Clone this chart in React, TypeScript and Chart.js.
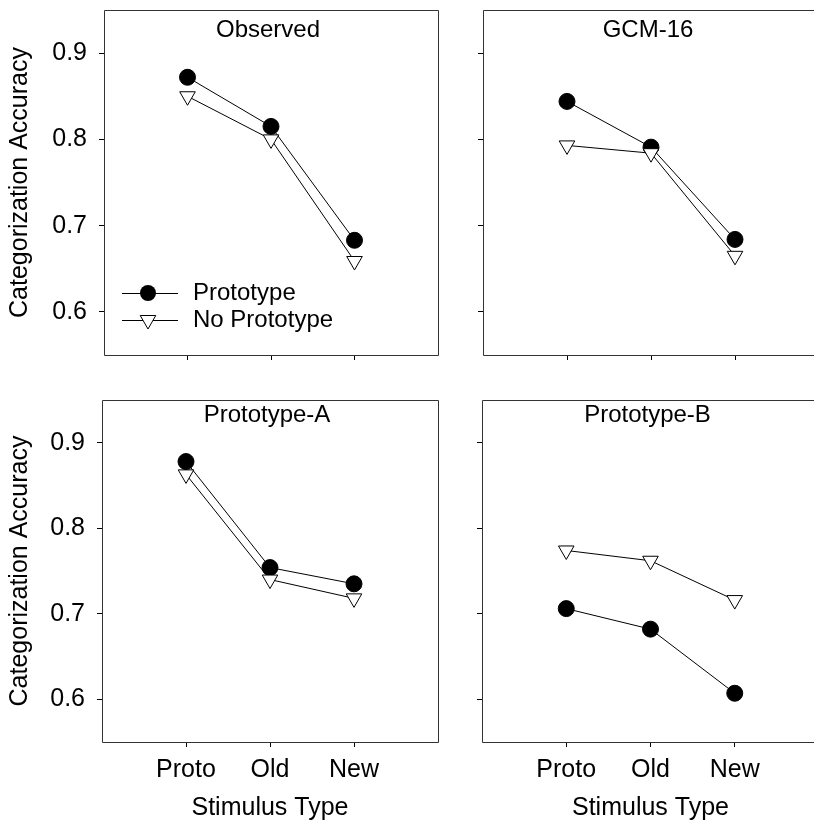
import React, { useEffect, useRef } from 'react';
import { Chart, registerables } from 'chart.js';

Chart.register(...registerables);

// ---- data ----
const stimulusTypes = ['Proto', 'Old', 'New'];
const yTicks = [0.6, 0.7, 0.8, 0.9];
const seriesNames = ['Prototype', 'No Prototype'];
const panelTitles = ['Observed', 'GCM-16', 'Prototype-A', 'Prototype-B'];

const observedProto = [0.872, 0.815, 0.683];
const observedNoProto = [0.850, 0.800, 0.659];
const gcmProto = [0.844, 0.791, 0.684];
const gcmNoProto = [0.793, 0.784, 0.665];
const protoAProto = [0.878, 0.754, 0.735];
const protoANoProto = [0.863, 0.740, 0.718];
const protoBProto = [0.706, 0.682, 0.607];
const protoBNoProto = [0.774, 0.762, 0.716];

const FONT_FAMILY = '"Liberation Sans", Arial, Helvetica, sans-serif';
const FONT_SIZE = 25;
const TITLE_SIZE = 24;
const INK = '#000';
const BOX = '#333';

type Area = { left: number; top: number; right: number; bottom: number };

type PanelProps = {
  title: string;
  proto: number[];
  noProto: number[];
  x: number;
  y: number;
  width: number;
  height: number;
  area: Area;
  showYLabels: boolean;
  showXLabels: boolean;
  showLegend: boolean;
  titleOffset: number;
  openRight: boolean;
};

function drawTriangleDown(ctx: CanvasRenderingContext2D, cx: number, cy: number, r: number) {
  ctx.beginPath();
  const rot = Math.PI;
  for (let k = 0; k < 3; k++) {
    const a = rot + (k * 2 * Math.PI) / 3;
    const px = cx + Math.sin(a) * r;
    const py = cy - Math.cos(a) * r;
    if (k === 0) ctx.moveTo(px, py);
    else ctx.lineTo(px, py);
  }
  ctx.closePath();
  ctx.fillStyle = '#fff';
  ctx.fill();
  ctx.strokeStyle = INK;
  ctx.lineWidth = 1;
  ctx.stroke();
}

function Panel(p: PanelProps) {
  const ref = useRef<HTMLCanvasElement | null>(null);

  useEffect(() => {
    if (!ref.current) return;
    const font = { family: FONT_FAMILY, size: FONT_SIZE };

    const decorPlugin = {
      id: 'decor' + p.title,
      beforeDatasetsDraw(chart: any) {
        const { ctx, chartArea } = chart;
        const l = Math.round(chartArea.left) + 0.5;
        const t = Math.round(chartArea.top) + 0.5;
        const r = Math.round(chartArea.right) + 0.5;
        const b = Math.round(chartArea.bottom) + 0.5;
        ctx.save();
        ctx.strokeStyle = BOX;
        ctx.lineWidth = 1;
        ctx.beginPath();
        ctx.moveTo(r, t);
        ctx.lineTo(l, t);
        ctx.lineTo(l, b);
        ctx.lineTo(r, b);
        if (!p.openRight) ctx.closePath();
        ctx.stroke();
        ctx.restore();
      },
      afterDraw(chart: any) {
        const { ctx, chartArea } = chart;
        ctx.save();
        ctx.font = `${TITLE_SIZE}px ${FONT_FAMILY}`;
        ctx.fillStyle = INK;
        ctx.textAlign = 'center';
        ctx.textBaseline = 'middle';
        ctx.fillText(p.title, (chartArea.left + chartArea.right) / 2 - 3, chartArea.top + p.titleOffset);

        if (p.showLegend) {
          const lx0 = chartArea.left + 18;
          const lx1 = chartArea.left + 74;
          const mx = chartArea.left + 44;
          const tx = chartArea.left + 89;
          const y1 = chartArea.bottom - 62;
          const y2 = chartArea.bottom - 35;
          ctx.strokeStyle = INK;
          ctx.lineWidth = 1;
          ctx.beginPath();
          ctx.moveTo(lx0, y1 + 0.5);
          ctx.lineTo(lx1, y1 + 0.5);
          ctx.moveTo(lx0, y2 + 0.5);
          ctx.lineTo(lx1, y2 + 0.5);
          ctx.stroke();
          ctx.beginPath();
          ctx.arc(mx, y1, 8, 0, Math.PI * 2);
          ctx.fillStyle = INK;
          ctx.fill();
          drawTriangleDown(ctx, mx, y2, 9);
          ctx.fillStyle = INK;
          ctx.textAlign = 'left';
          ctx.fillText(seriesNames[0], tx, y1);
          ctx.fillText(seriesNames[1], tx, y2);
        }
        ctx.restore();
      },
    };

    const chart = new Chart(ref.current, {
      type: 'line',
      data: {
        datasets: [
          {
            label: seriesNames[0],
            data: p.proto.map((v, i) => ({ x: i, y: v })),
            borderColor: INK,
            borderWidth: 1,
            tension: 0,
            pointStyle: 'circle',
            pointRadius: 8,
            pointHoverRadius: 8,
            pointBackgroundColor: INK,
            pointBorderColor: INK,
            pointBorderWidth: 1,
            order: 1,
          },
          {
            label: seriesNames[1],
            data: p.noProto.map((v, i) => ({ x: i, y: v })),
            borderColor: INK,
            borderWidth: 1,
            tension: 0,
            pointStyle: 'triangle',
            rotation: 180,
            pointRadius: 9,
            pointHoverRadius: 9,
            pointBackgroundColor: '#fff',
            pointBorderColor: INK,
            pointBorderWidth: 1,
            order: 0,
          },
        ],
      },
      options: {
        responsive: false,
        animation: false,
        devicePixelRatio: 1,
        events: [],
        layout: {
          padding: { left: 0, top: p.area.top, right: p.width - p.area.right, bottom: 0 },
        },
        plugins: {
          legend: { display: false },
          tooltip: { enabled: false },
          title: { display: false },
        },
        scales: {
          x: {
            type: 'linear',
            min: -1,
            max: 3,
            afterBuildTicks: (s: any) => {
              s.ticks = stimulusTypes.map((_, i) => ({ value: i }));
            },
            afterFit: (s: any) => {
              s.height = p.height - p.area.bottom;
              s.paddingLeft = 0;
              s.paddingRight = 0;
              s.paddingTop = 0;
              s.paddingBottom = 0;
            },
            grid: { drawOnChartArea: false, drawTicks: true, tickLength: 5, color: INK, lineWidth: 1 },
            border: { display: false },
            ticks: {
              color: INK,
              font,
              padding: 8,
              maxRotation: 0,
              autoSkip: false,
              callback: (v: any) => (p.showXLabels ? stimulusTypes[Math.round(Number(v))] : ''),
            },
            title: {
              display: p.showXLabels,
              text: 'Stimulus Type',
              color: INK,
              font,
              padding: { top: 0, bottom: 0 },
            },
          },
          y: {
            type: 'linear',
            min: 0.55,
            max: 0.95,
            afterBuildTicks: (s: any) => {
              s.ticks = yTicks.map((v) => ({ value: v }));
            },
            afterFit: (s: any) => {
              s.width = p.area.left;
              s.paddingLeft = 0;
              s.paddingRight = 0;
              s.paddingTop = 0;
              s.paddingBottom = 0;
            },
            grid: { drawOnChartArea: false, drawTicks: true, tickLength: 5, color: INK, lineWidth: 1 },
            border: { display: false },
            ticks: {
              color: INK,
              font,
              padding: 12,
              callback: (v: any) => (p.showYLabels ? Number(v).toFixed(1) : ''),
            },
            title: {
              display: p.showYLabels,
              text: 'Categorization Accuracy',
              color: INK,
              font,
              padding: { top: 5, bottom: 0 },
            },
          },
        },
      },
      plugins: [decorPlugin],
    } as any);

    return () => chart.destroy();
  }, []);

  return (
    <canvas
      ref={ref}
      width={p.width}
      height={p.height}
      style={{ position: 'absolute', left: p.x, top: p.y, width: p.width, height: p.height }}
    />
  );
}

export default function App() {
  return (
    <div
      style={{
        position: 'fixed',
        left: 0,
        top: 0,
        width: 814,
        height: 823,
        overflow: 'hidden',
        background: '#fff',
      }}
    >
      <Panel
        title={panelTitles[0]}
        proto={observedProto}
        noProto={observedNoProto}
        x={0}
        y={0}
        width={460}
        height={390}
        area={{ left: 104, top: 8, right: 438, bottom: 355 }}
        showYLabels={true}
        showXLabels={false}
        showLegend={true}
        titleOffset={20}
        openRight={false}
      />
      <Panel
        title={panelTitles[1]}
        proto={gcmProto}
        noProto={gcmNoProto}
        x={460}
        y={0}
        width={380}
        height={390}
        area={{ left: 23, top: 8, right: 359, bottom: 355 }}
        showYLabels={false}
        showXLabels={false}
        showLegend={false}
        titleOffset={20}
        openRight={true}
      />
      <Panel
        title={panelTitles[2]}
        proto={protoAProto}
        noProto={protoANoProto}
        x={0}
        y={390}
        width={460}
        height={433}
        area={{ left: 102, top: 7, right: 438, bottom: 352 }}
        showYLabels={true}
        showXLabels={true}
        showLegend={false}
        titleOffset={15}
        openRight={false}
      />
      <Panel
        title={panelTitles[3]}
        proto={protoBProto}
        noProto={protoBNoProto}
        x={460}
        y={390}
        width={380}
        height={433}
        area={{ left: 22, top: 7, right: 359, bottom: 352 }}
        showYLabels={false}
        showXLabels={true}
        showLegend={false}
        titleOffset={15}
        openRight={true}
      />
    </div>
  );
}
